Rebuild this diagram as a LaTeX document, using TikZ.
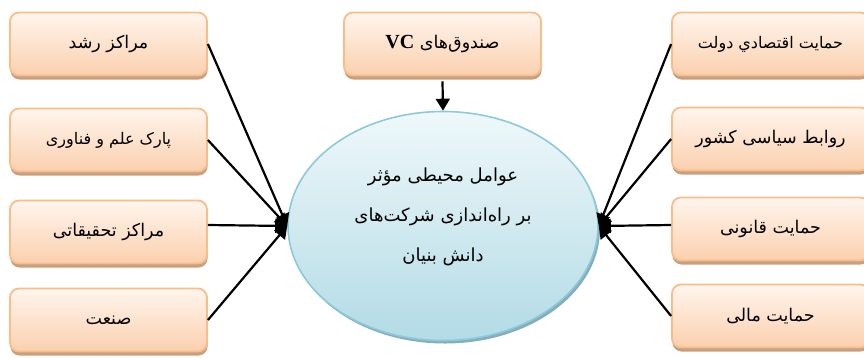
\documentclass[tikz,border=0pt]{standalone}
\usepackage{fontspec}
\setmainfont{Liberation Serif}
\newfontfamily\arabicfont[Script=Arabic]{DejaVu Sans}
\TeXXeTstate=1
\usetikzlibrary{arrows.meta,shapes.geometric,shadows}
\definecolor{boxtop}{HTML}{FFF5EE}
\definecolor{boxbot}{HTML}{FBD0AE}
\definecolor{boxline}{HTML}{F9BD8A}
\definecolor{boxshadow}{HTML}{C9A07F}
\definecolor{elltop}{HTML}{EFF8FA}
\definecolor{ellbot}{HTML}{B3DBE6}
\definecolor{ellline}{HTML}{8CC9DA}
\definecolor{ellshadow}{HTML}{86ADBA}
\begin{document}
\begin{tikzpicture}[x=1pt,y=-1pt,
  factor/.style={rounded corners=9pt, draw=boxline, line width=1.8pt,
    top color=boxtop, bottom color=boxbot, minimum width=197pt,
    minimum height=63pt, inner sep=2pt,
    font=\arabicfont\fontsize{17.5}{20}\selectfont,
    drop shadow={shadow xshift=0.5pt, shadow yshift=-4pt, fill=boxshadow, opacity=1}},
  small/.style={font=\arabicfont\fontsize{16}{18}\selectfont},
  center/.style={ellipse, draw=ellline, line width=1.6pt,
    top color=elltop, bottom color=ellbot,
    minimum width=310pt, minimum height=229pt,
    drop shadow={shadow xshift=2pt, shadow yshift=-3pt, fill=ellshadow, opacity=1}},
  link/.style={line width=2.2pt, black, -{Triangle[length=12pt,width=14pt]}}]
\useasboundingbox (0,0) rectangle (864,357);

% left boxes
\node[factor] (l1) at (108.5,44) {\beginR مراکز رشد\endR};
\node[factor,small] (l2) at (108.5,140) {\beginR پارک علم و فناوری\endR};
\node[factor] (l3) at (108.5,232) {\beginR مراکز تحقیقاتی\endR};
\node[factor] (l4) at (108.5,320) {\beginR صنعت\endR};

% right boxes
\node[factor,small] (r1) at (770.5,44) {\raisebox{4pt}{\beginR حمایت اقتصادي دولت\endR}};
\node[factor] (r2) at (770.5,139) {\beginR روابط سیاسی کشور\endR};
\node[factor] (r3) at (770.5,229) {\beginR حمایت قانونی\endR};
\node[factor] (r4) at (770.5,316) {\beginR حمایت مالی\endR};

% top box
\node[factor] (top) at (442.5,44) {\beginR صندوق‌های \beginL{\rmfamily\bfseries\fontsize{20}{22}\selectfont VC}\endL\endR};

% centre ellipse
\node[center] (e) at (443,226) {};
\node[align=center, font=\arabicfont\fontsize{18}{40}\selectfont] (etext) at (443,217)
  {\beginR عوامل محیطی مؤثر\endR\\\beginR بر راه‌اندازی شرکت‌های\endR\\\beginR دانش بنیان\endR};

% connectors
\draw[link] (l1.east) -- (e.west);
\draw[link] (l2.east) -- (e.west);
\draw[link] ([yshift=7pt]l3.east) -- (e.west);
\draw[link] (l4.east) -- (e.west);
\draw[link] (r1.west) -- (e.east);
\draw[link] (r2.west) -- (e.east);
\draw[link] ([yshift=4pt]r3.west) -- (e.east);
\draw[link] (r4.west) -- (e.east);
\draw[line width=2.2pt, -{Triangle[length=12pt,width=14pt]}] ([yshift=-5pt]top.south) -- (e.north);
\end{tikzpicture}
\end{document}
